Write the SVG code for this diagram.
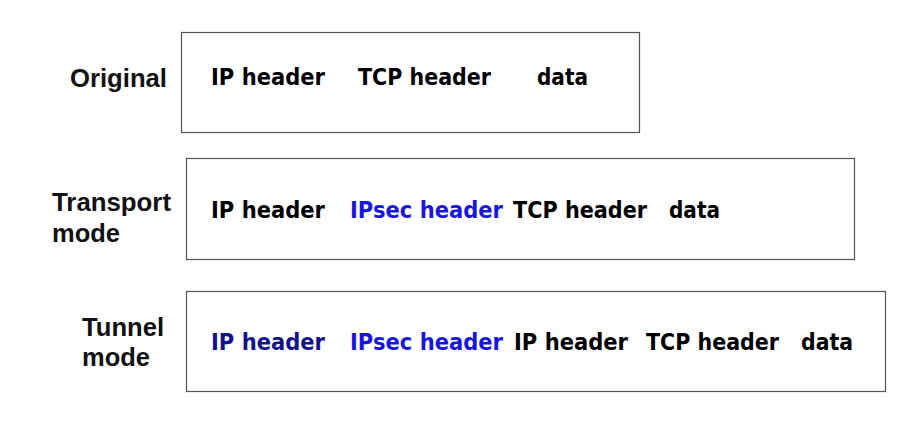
<svg xmlns="http://www.w3.org/2000/svg" width="913" height="428" viewBox="0 0 913 428">
<style>
.box{fill:#fff;stroke:#555;stroke-width:1.2}
.lbl{font-family:"Liberation Sans",Arial,sans-serif;font-weight:bold;font-size:26px;fill:#111}
.f{font-family:"DejaVu Sans",Verdana,sans-serif;font-weight:bold;font-size:23px;fill:#000}
.b{fill:#1616e0}
.n{fill:#12128c}
</style>
<rect width="913" height="428" fill="#fff"/>
<g id="original">
<rect class="box" x="181.5" y="32.5" width="458" height="100"/>
<text class="lbl" x="70" y="87" textLength="97" lengthAdjust="spacingAndGlyphs">Original</text>
<text class="f" x="211" y="85" textLength="114" lengthAdjust="spacingAndGlyphs">IP header</text>
<text class="f" x="358" y="85" textLength="133" lengthAdjust="spacingAndGlyphs">TCP header</text>
<text class="f" x="537" y="85" textLength="51" lengthAdjust="spacingAndGlyphs">data</text>
</g>
<g id="transport">
<rect class="box" x="186.5" y="158.5" width="668" height="101"/>
<text class="lbl" x="52" y="211" textLength="119" lengthAdjust="spacingAndGlyphs">Transport</text>
<text class="lbl" x="52" y="242" textLength="68" lengthAdjust="spacingAndGlyphs">mode</text>
<text class="f" x="211" y="218" textLength="114" lengthAdjust="spacingAndGlyphs">IP header</text>
<text class="f b" x="350" y="218" textLength="153" lengthAdjust="spacingAndGlyphs">IPsec header</text>
<text class="f" x="513" y="218" textLength="134" lengthAdjust="spacingAndGlyphs">TCP header</text>
<text class="f" x="669" y="218" textLength="51" lengthAdjust="spacingAndGlyphs">data</text>
</g>
<g id="tunnel">
<rect class="box" x="186.5" y="291.5" width="699" height="100"/>
<text class="lbl" x="82" y="336" textLength="82" lengthAdjust="spacingAndGlyphs">Tunnel</text>
<text class="lbl" x="82" y="366" textLength="68" lengthAdjust="spacingAndGlyphs">mode</text>
<text class="f n" x="211" y="350" textLength="114" lengthAdjust="spacingAndGlyphs">IP header</text>
<text class="f b" x="350" y="350" textLength="153" lengthAdjust="spacingAndGlyphs">IPsec header</text>
<text class="f" x="514" y="350" textLength="114" lengthAdjust="spacingAndGlyphs">IP header</text>
<text class="f" x="646" y="350" textLength="133" lengthAdjust="spacingAndGlyphs">TCP header</text>
<text class="f" x="801" y="350" textLength="52" lengthAdjust="spacingAndGlyphs">data</text>
</g>
<g id="connectors"/>
</svg>
